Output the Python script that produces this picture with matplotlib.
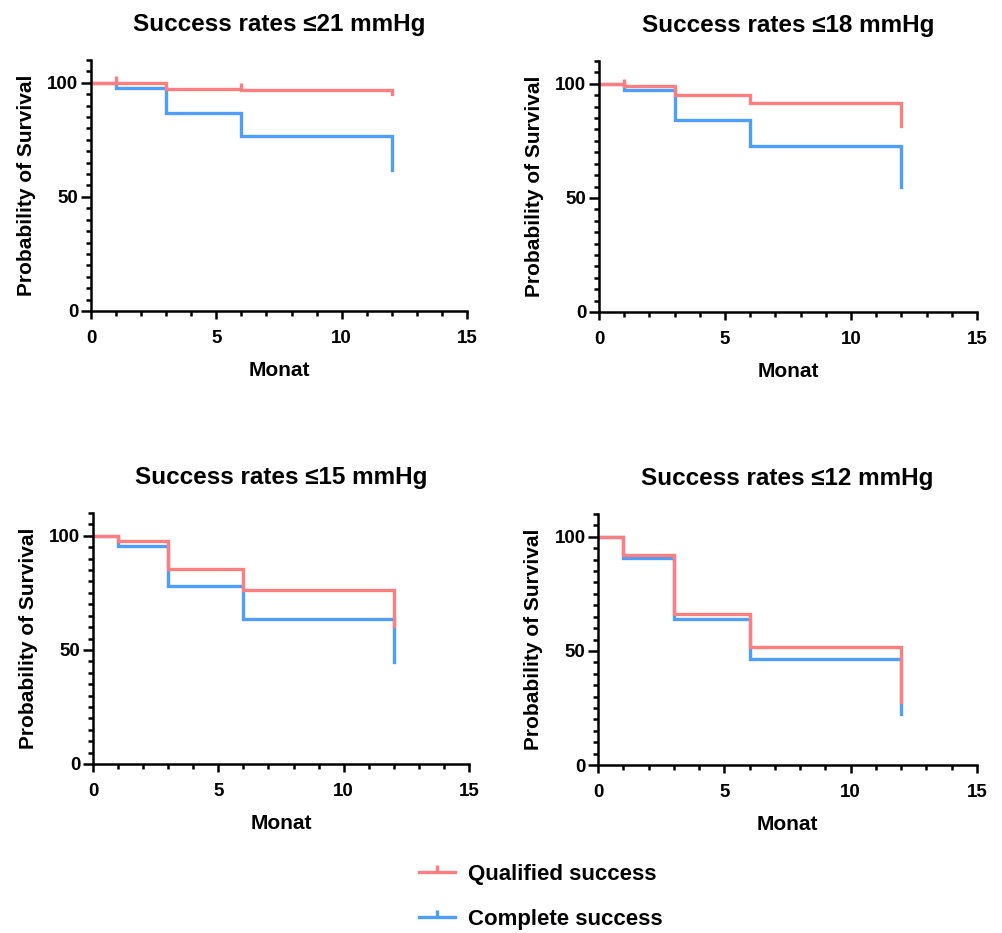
import numpy as np
import matplotlib
matplotlib.use('Agg')
import matplotlib.pyplot as plt
from matplotlib.lines import Line2D
from matplotlib.ticker import MultipleLocator

# --- Fonts / style ---
plt.rcParams['font.family'] = ['Liberation Sans', 'DejaVu Sans']
plt.rcParams['font.weight'] = 'bold'
plt.rcParams['axes.labelweight'] = 'bold'
plt.rcParams['axes.titleweight'] = 'bold'

RED = '#FF7F80'
BLUE = '#4E9EFA'

# --- Data (Kaplan-Meier steps) ---
months = [0, 1, 3, 6, 12]

titles = ['Success rates \u226421 mmHg', 'Success rates \u226418 mmHg',
          'Success rates \u226415 mmHg', 'Success rates \u226412 mmHg']

qualified_21 = [100, 100, 97.5, 96.9, 94.9]
complete_21 = [100, 97.6, 86.9, 76.6, 61.6]
qualified_18 = [100, 99.2, 94.9, 91.7, 81.3]
complete_18 = [100, 97.1, 84.1, 72.7, 55.0]
qualified_15 = [100, 97.9, 85.4, 76.3, 60.5]
complete_15 = [100, 95.6, 77.9, 63.7, 44.9]
qualified_12 = [100, 92.0, 66.0, 51.7, 27.7]
complete_12 = [100, 90.7, 63.9, 46.5, 22.4]

# censor marks on the qualified curves (time, survival)
censor_21 = ([1, 6], [100, 96.9])
censor_18 = ([1], [99.2])

panels = [
    (qualified_21, complete_21, censor_21),
    (qualified_18, complete_18, censor_18),
    (qualified_15, complete_15, None),
    (qualified_12, complete_12, None),
]

# axes boxes in pixels: left, right, bottom, top
W, H = 1002, 933
boxes = [(91, 467, 311, 60), (599, 977, 312, 61),
         (93, 469, 764, 513), (598, 977, 765, 514)]

LW = 2.4

fig = plt.figure(figsize=(W / 100, H / 100), dpi=100)

for (qual, comp, cens), title, (l, r, b, t) in zip(panels, titles, boxes):
    ax = fig.add_axes([l / W, 1 - b / H, (r - l) / W, (b - t) / H])
    ax.step(months, comp, where='post', color=BLUE, lw=LW, solid_joinstyle='miter')
    ax.step(months, qual, where='post', color=RED, lw=LW, solid_joinstyle='miter')
    if cens is not None:
        ax.plot(cens[0], cens[1], linestyle='none', marker=2, markersize=5,
                markeredgewidth=LW, color=RED)

    ax.set_xlim(0, 15)
    ax.set_ylim(0, 110)
    ax.set_xticks([0, 5, 10, 15])
    ax.set_yticks([0, 50, 100])
    ax.xaxis.set_minor_locator(MultipleLocator(1))
    ax.yaxis.set_minor_locator(MultipleLocator(5))
    for s in ['top', 'right']:
        ax.spines[s].set_visible(False)
    for s in ['left', 'bottom']:
        ax.spines[s].set_linewidth(1.8)
    ax.tick_params(axis='both', which='both', width=1.8, labelsize=13.5)
    ax.tick_params(axis='y', which='major', length=7, pad=2)
    ax.tick_params(axis='y', which='minor', length=3.5)
    ax.tick_params(axis='x', which='major', length=5.5, pad=8)
    ax.tick_params(axis='x', which='minor', length=3.5)
    for lab in ax.get_xticklabels() + ax.get_yticklabels():
        lab.set_fontweight('bold')
    ax.set_xlabel('Monat', fontsize=15, labelpad=10)
    ax.set_ylabel('Probability of Survival', fontsize=15, labelpad=8)
    ax.set_title(title, fontsize=17.5, pad=21)

# --- Legend ---
handles = [Line2D([0], [0], color=RED, lw=LW, marker=2, markersize=5, markeredgewidth=LW),
           Line2D([0], [0], color=BLUE, lw=LW, marker=2, markersize=5, markeredgewidth=LW)]
fig.legend(handles, ['Qualified success', 'Complete success'],
           loc='center left', bbox_to_anchor=(419 / W, 1 - 897 / H),
           frameon=False, handlelength=1.6, handletextpad=0.6,
           labelspacing=1.1, borderpad=0, borderaxespad=0, numpoints=1,
           prop={'weight': 'bold', 'size': 16})

fig.savefig('out.png', dpi=100)
